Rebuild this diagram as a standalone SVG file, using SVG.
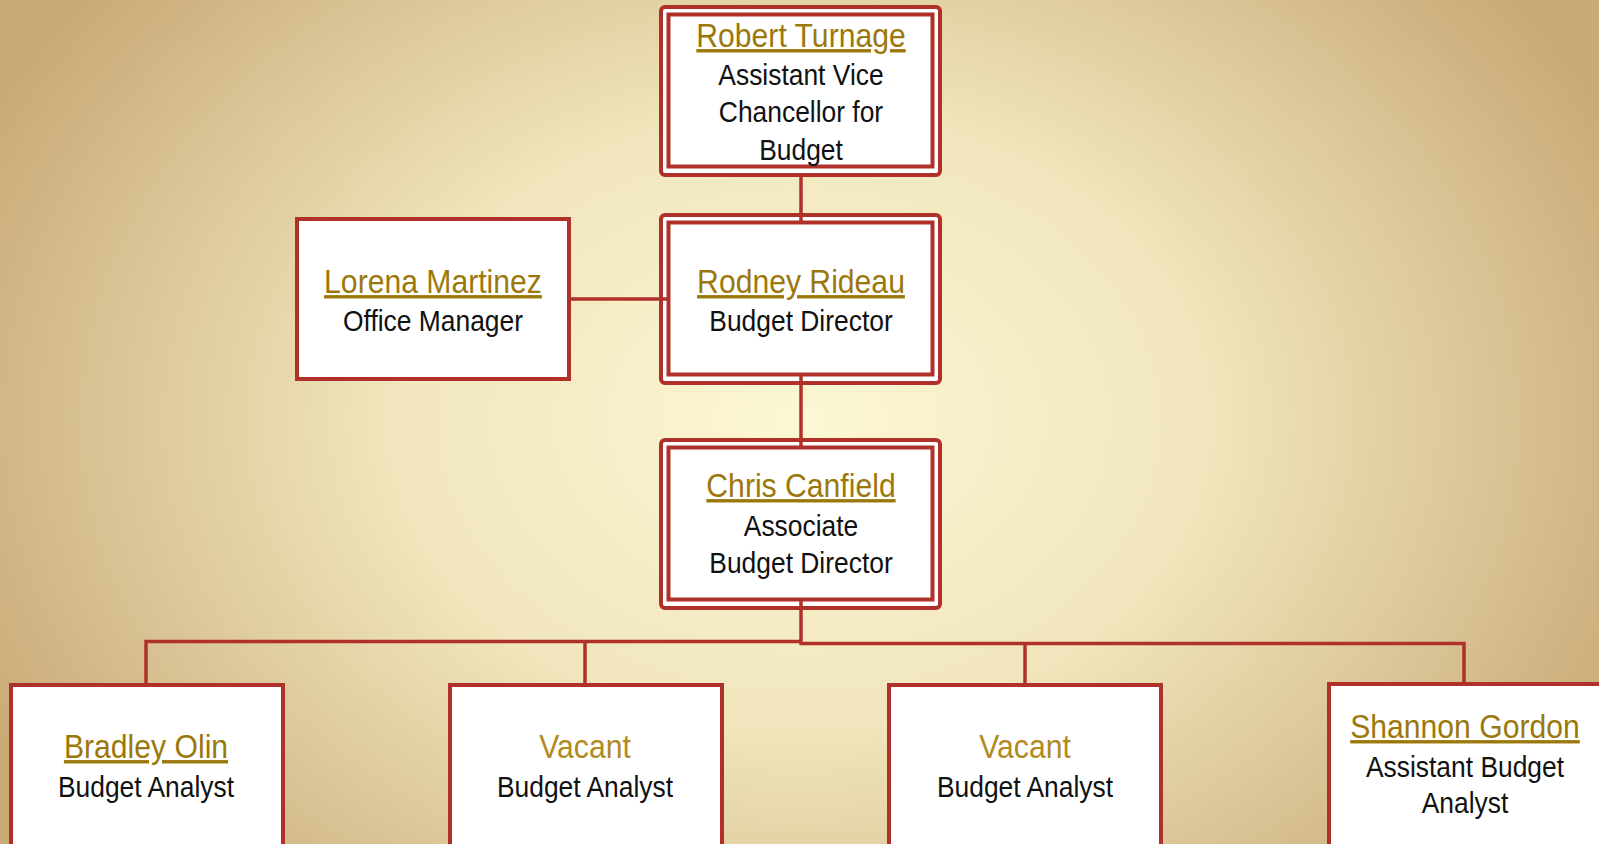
<svg xmlns="http://www.w3.org/2000/svg" width="1599" height="844" viewBox="0 0 1599 844">
<defs>
<radialGradient id="bg" cx="800" cy="420" r="900" gradientUnits="userSpaceOnUse" gradientTransform="translate(800 420) scale(1 0.75) translate(-800 -420)">
<stop offset="0" stop-color="#FCF7D4"/>
<stop offset="0.45" stop-color="#F1E6BD"/>
<stop offset="1" stop-color="#C9AB78"/>
</radialGradient>
<style>
.o{fill:none;stroke:#B0302A;stroke-width:4}
.b{fill:#fff;stroke:#B0302A;stroke-width:4}
.c{fill:none;stroke:#B0302A;stroke-width:3.5}
text{font-family:"Liberation Sans",Arial,sans-serif;font-size:30px;text-anchor:middle;fill:#111}
.n{font-size:33.5px;fill:#9C780B;text-decoration:underline;text-decoration-thickness:3px;text-underline-offset:4px}
.v{font-size:33.5px;fill:#B38A1F}
</style>
</defs>
<rect width="1599" height="844" fill="url(#bg)"/>
<g id="robert">
<rect class="b" x="661" y="7" width="279" height="168" rx="4"/>
<rect class="o" x="668.5" y="14.5" width="264" height="152"/>
<text class="n" transform="translate(801 47) scale(0.9 1)">Robert Turnage</text>
<text transform="translate(801 85) scale(0.88 1)">Assistant Vice</text>
<text transform="translate(801 122) scale(0.88 1)">Chancellor for</text>
<text transform="translate(801 160) scale(0.88 1)">Budget</text>
</g>
<g id="lorena">
<rect class="b" x="297" y="219" width="272" height="160"/>
<text class="n" transform="translate(433 293) scale(0.9 1)">Lorena Martinez</text>
<text transform="translate(433 331) scale(0.88 1)">Office Manager</text>
</g>
<g id="rodney">
<rect class="b" x="661" y="215" width="279" height="168" rx="4"/>
<rect class="o" x="668.5" y="222.5" width="264" height="152"/>
<text class="n" transform="translate(801 293) scale(0.9 1)">Rodney Rideau</text>
<text transform="translate(801 331) scale(0.88 1)">Budget Director</text>
</g>
<g id="chris">
<rect class="b" x="661" y="440" width="279" height="168" rx="4"/>
<rect class="o" x="668.5" y="447.5" width="264" height="152"/>
<text class="n" transform="translate(801 497) scale(0.9 1)">Chris Canfield</text>
<text transform="translate(801 536) scale(0.88 1)">Associate</text>
<text transform="translate(801 573) scale(0.88 1)">Budget Director</text>
</g>
<g id="bradley">
<rect class="b" x="11" y="685" width="272" height="170"/>
<text class="n" transform="translate(146 758) scale(0.9 1)">Bradley Olin</text>
<text transform="translate(146 797) scale(0.88 1)">Budget Analyst</text>
</g>
<g id="vacant1">
<rect class="b" x="450" y="685" width="272" height="170"/>
<text class="v" transform="translate(585 758) scale(0.9 1)">Vacant</text>
<text transform="translate(585 797) scale(0.88 1)">Budget Analyst</text>
</g>
<g id="vacant2">
<rect class="b" x="889" y="685" width="272" height="170"/>
<text class="v" transform="translate(1025 758) scale(0.9 1)">Vacant</text>
<text transform="translate(1025 797) scale(0.88 1)">Budget Analyst</text>
</g>
<g id="shannon">
<rect class="b" x="1329" y="684" width="290" height="170"/>
<text class="n" transform="translate(1465 738) scale(0.9 1)">Shannon Gordon</text>
<text transform="translate(1465 777) scale(0.88 1)">Assistant Budget</text>
<text transform="translate(1465 813) scale(0.88 1)">Analyst</text>
</g>
<g id="connectors">
<line class="c" x1="801" y1="173" x2="801" y2="222.5"/>
<line class="c" x1="569" y1="299" x2="668.5" y2="299"/>
<line class="c" x1="801" y1="374.5" x2="801" y2="447.5"/>
<polyline class="c" points="801,599.5 801,643.5 1464,643.5 1464,684"/>
<polyline class="c" points="801,641.5 146,641.5 146,685"/>
<line class="c" x1="585" y1="641.5" x2="585" y2="685"/>
<line class="c" x1="1025" y1="643.5" x2="1025" y2="685"/>
</g>
</svg>
